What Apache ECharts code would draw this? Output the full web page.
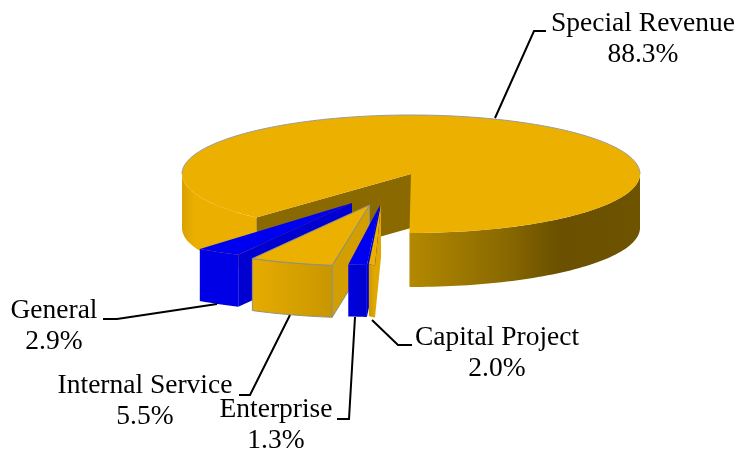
<!DOCTYPE html>
<html>
<head>
<meta charset="utf-8">
<style>
  html, body { margin: 0; padding: 0; background: #fff; }
  #main { width: 739px; height: 452px; }
</style>
</head>
<body>
<div id="main"></div>
<script src="https://cdn.jsdelivr.net/npm/echarts@6/dist/echarts.min.js"></script>
<script>
// clockwise from the start angle, same order as the source pie
const categories = ["Special Revenue", "Capital Project", "Enterprise", "Internal Service", "General"];
const shares = [88.3, 2.0, 1.3, 5.5, 2.9];

// back to front
const drawOrder = [0, 4, 3, 2, 1];
const START_ANGLE = 222.5;

// where each wedge sits once pulled out of the pie
const poses = [
  { x: 411, y: 174, rx: 229, ry: 59, depth: 54, rot: 0 },
  { x: 381, y: 205, rx: 50, ry: 61, depth: 52, rot: 6.5 },
  { x: 380, y: 205, rx: 229, ry: 60, depth: 52, rot: -4.3 },
  { x: 369.5, y: 205, rx: 245, ry: 61, depth: 52, rot: -3.5 },
  { x: 352, y: 203, rx: 250, ry: 58, depth: 52, rot: -5 }
];

const GOLD = "#ecb000";
const BLUE = "#0000f0";
const looks = [
  { top: GOLD, face: "#8a6a00", wall: [[183, "#d9a200"], [194, "#ebaf00"], [258, "#ebaf00"], [406, "#b58a00"], [500, "#8c6b00"], [560, "#6a5000"], [640, "#6e5300"]], edge: "#9a9c9a" },
  { top: GOLD, face: "#e0a800", wall: [[369, "#cf9b00"], [375, "#e0a800"]] },
  { top: BLUE, face: "#0000d8", wall: [[347, "#0000e0"], [367, "#0000d0"]] },
  { top: GOLD, face: "#d39e00", wall: [[250, "#e6ac00"], [333, "#c89600"]], edge: "#8e9284" },
  { top: BLUE, face: "#0000d0", wall: [[199, "#0000e6"], [240, "#0000e6"]] }
];

// label text block centre, and the leader line running from it to the wedge
const labelSpots = [
  { x: 643, y: 24, line: [[546, 31], [534, 31], [495, 118]] },
  { x: 497, y: 338, line: [[412, 345], [398, 345], [372, 320]] },
  { x: 276, y: 410, line: [[337, 419], [349, 419], [355, 317]] },
  { x: 145, y: 386, line: [[239, 395], [250, 395], [290, 315]] },
  { x: 54, y: 311, line: [[103, 319], [117, 319], [217, 304]] }
];

// wedge spans in degrees, from the shares
const total = shares.reduce((a, b) => a + b, 0);
let cursor = START_ANGLE;
const spans = shares.map(v => {
  const s = [cursor, cursor + v / total * 360];
  cursor = s[1];
  return s;
});

function pt(p, deg, drop) {
  const r = (deg + p.rot) * Math.PI / 180;
  return [p.x + Math.sin(r) * p.rx, p.y - Math.cos(r) * p.ry + (drop || 0)];
}

function arc(p, from, to, drop) {
  const out = [];
  const n = Math.max(2, Math.ceil((to - from) / 1.5));
  for (let i = 0; i <= n; i++) out.push(pt(p, from + (to - from) * i / n, drop));
  return out;
}

function wallFill(stops) {
  const x0 = stops[0][0], x1 = stops[stops.length - 1][0];
  return new echarts.graphic.LinearGradient(x0, 0, x1, 0,
    stops.map(s => ({ offset: (s[0] - x0) / (x1 - x0), color: s[1] })), true);
}

// only the part of the rim facing the viewer gets an outer wall
function frontRuns(a, b) {
  const runs = [];
  [[90, 270], [450, 630]].forEach(w => {
    const from = Math.max(a, w[0]), to = Math.min(b, w[1]);
    if (to > from) runs.push([from, to]);
  });
  return runs;
}

function renderSlice(params, api) {
  const i = api.value(0);
  const p = poses[i], look = looks[i], a = spans[i][0], b = spans[i][1];
  const kids = [];
  const centre = [p.x, p.y];
  const centreLow = [p.x, p.y + p.depth];

  // cut face at the clockwise start of the wedge
  const rimA = pt(p, a), rimALow = pt(p, a, p.depth);
  kids.push({ type: "polygon", shape: { points: [centre, rimA, rimALow, centreLow] },
    style: { fill: look.face, stroke: look.edge || null, lineWidth: look.edge && i ? 1 : 0 } });

  frontRuns(a, b).forEach(r => {
    const upper = arc(p, r[0], r[1], 0);
    const lower = arc(p, r[0], r[1], p.depth).reverse();
    kids.push({ type: "polygon", shape: { points: upper.concat(lower) },
      style: { fill: wallFill(look.wall), stroke: i && look.edge ? look.edge : null, lineWidth: i && look.edge ? 1 : 0 } });
  });

  kids.push({ type: "polygon", shape: { points: [centre].concat(arc(p, a, b, 0)) },
    style: { fill: look.top, stroke: i && look.edge ? look.edge : null, lineWidth: i && look.edge ? 1 : 0 } });

  // grey line along the back of the big wedge
  if (!i) {
    kids.push({ type: "polyline", shape: { points: arc(p, 270, 450, 0) },
      style: { fill: null, stroke: look.edge, lineWidth: 1 } });
  }
  return { type: "group", children: kids };
}

const labelGraphics = [];
categories.forEach((name, i) => {
  const s = labelSpots[i];
  labelGraphics.push({
    type: "polyline", shape: { points: s.line }, z: 20,
    style: { fill: null, stroke: "#000", lineWidth: 2 }
  });
  [name, shares[i].toFixed(1) + "%"].forEach((t, k) => {
    labelGraphics.push({
      type: "text", x: s.x, y: s.y + k * 31, z: 20,
      style: { text: t, fill: "#000", font: '27.5px "Liberation Serif"', align: "center", verticalAlign: "middle" }
    });
  });
});

const chart = echarts.init(document.getElementById("main"), null, { renderer: "canvas" });
chart.setOption({
  animation: false,
  backgroundColor: "#fff",
  graphic: labelGraphics,
  series: [{
    type: "custom",
    coordinateSystem: "none",
    renderItem: renderSlice,
    silent: true,
    data: drawOrder.map(i => [i, shares[i]])
  }]
});
</script>
</body>
</html>
